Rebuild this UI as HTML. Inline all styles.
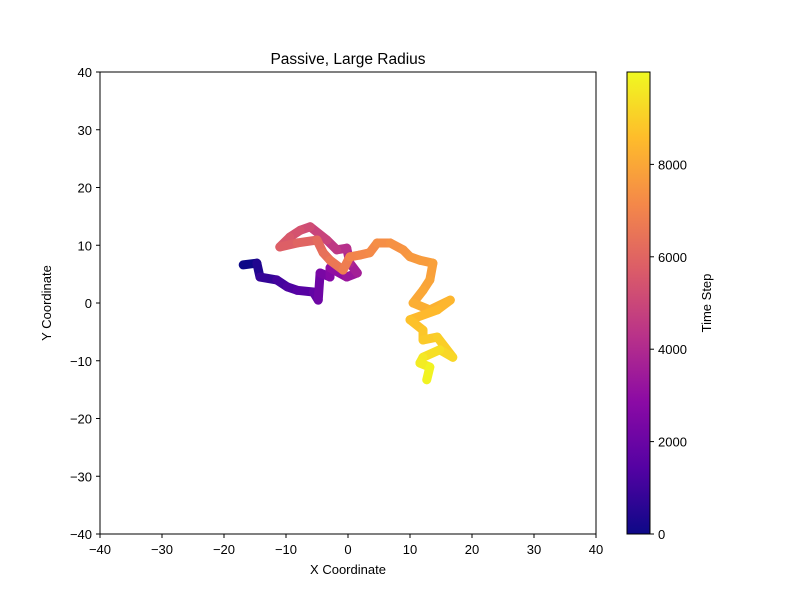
<!DOCTYPE html>
<html><head><meta charset="utf-8"><style>
body{margin:0;background:#fff;font-family:"Liberation Sans",sans-serif}
svg text{font-family:"Liberation Sans",sans-serif;font-size:13px;fill:#000}
</style></head><body>
<svg id="chart" width="800" height="600">
<text x="348" y="64" text-anchor="middle" style="font-size:15.5px">Passive, Large Radius</text>
<g id="plot"></g>
<rect x="100" y="72" width="496" height="462" fill="none" stroke="#000" stroke-width="1"/>
<g id="axes"></g>
<text x="348" y="574" text-anchor="middle">X Coordinate</text>
<text transform="translate(51,303) rotate(-90)" text-anchor="middle">Y Coordinate</text>
<defs><linearGradient id="pl" x1="0" y1="1" x2="0" y2="0"></linearGradient></defs>
<rect x="627" y="72" width="23" height="462" fill="url(#pl)" stroke="#000" stroke-width="1"/>
<text transform="translate(711,303) rotate(-90)" text-anchor="middle">Time Step</text>
</svg>
<script>
const xs=[-16.9,-14.7,-14.2,-11.5,-9.8,-8.2,-5.6,-4.8,-4.5,-2.9,-2.9,-0.2,1.5,0.3,-0.2,-1.8,-3.4,-6.1,-7.7,-9.4,-11,-8.2,-5,-4,-2.9,-0.8,0.3,1.9,3.5,4.7,6.8,8.9,10,11.6,13.7,13.2,12.1,10.5,13.2,16.5,14.4,10,12.1,12.1,14.4,16.9,14.8,12.1,11.6,13.2,12.7];
const ys=[6.6,6.9,4.5,4,2.8,2.2,1.9,0.5,5.2,4.5,6.1,4.5,5.2,6.9,9.5,9.2,10.9,13.2,12.6,11.4,9.7,10.4,10.9,8.7,7.4,5.7,8,8.3,8.7,10.4,10.4,9.2,8,7.4,6.9,4,2.2,0,-1.2,0.5,-1.2,-2.9,-4.7,-6.4,-5.9,-9.4,-8.1,-9.4,-10.4,-11.1,-13.3];
const ts=[0,400,800,1100,1300,1500,1800,2100,2400,2700,3000,3300,3600,3900,4200,4500,4900,5200,5400,5600,5800,6000,6200,6400,6600,6800,7000,7100,7200,7300,7400,7500,7600,7700,7800,7900,8000,8200,8300,8400,8500,8700,8800,8900,9000,9200,9400,9600,9700,9850,10000];
const xTicks=[-40,-30,-20,-10,0,10,20,30,40];
const yTicks=[-40,-30,-20,-10,0,10,20,30,40];
const cTicks=[0,2000,4000,6000,8000];
const sx=v=>100+(v+40)*6.2, sy=v=>534-(v+40)*5.775, sc=v=>534-v/10000*462;
const P=[[13,8,135],[84,2,163],[139,10,165],[185,50,137],[219,92,104],[244,136,73],[254,188,43],[240,249,33]];
function plasma(t){t=Math.max(0,Math.min(1,t))*7;const i=Math.min(6,Math.floor(t)),f=t-i;const c=P[i].map((a,k)=>Math.round(a+(P[i+1][k]-a)*f));return `rgb(${c})`;}
const NS='http://www.w3.org/2000/svg';
const g=document.getElementById('plot');
for(let i=0;i<xs.length-1;i++){
 const l=document.createElementNS(NS,'line');
 l.setAttribute('x1',sx(xs[i]));l.setAttribute('y1',sy(ys[i]));
 l.setAttribute('x2',sx(xs[i+1]));l.setAttribute('y2',sy(ys[i+1]));
 l.setAttribute('stroke',plasma(ts[i]/10000));l.setAttribute('stroke-width','9');l.setAttribute('stroke-linecap','round');
 
 
 g.appendChild(l);
}
const gr=document.getElementById('pl');
for(let i=0;i<P.length;i++){const s=document.createElementNS(NS,'stop');s.setAttribute('offset',i/7);s.setAttribute('stop-color',`rgb(${P[i]})`);gr.appendChild(s);}
const ax=document.getElementById('axes');
function add(tag,at,txt){const e=document.createElementNS(NS,tag);for(const k in at)e.setAttribute(k,at[k]);if(txt!==undefined)e.textContent=txt;ax.appendChild(e);return e;}
xTicks.forEach(v=>{add('line',{x1:sx(v),x2:sx(v),y1:534,y2:538,stroke:'#000'});
 const t=add('text',{x:sx(v),y:554,'text-anchor':'middle'},String(v).replace('-','\u2212'));
 
 });
yTicks.forEach(v=>{add('line',{x1:96,x2:100,y1:sy(v),y2:sy(v),stroke:'#000'});
 const t=add('text',{x:92,y:sy(v)+5,'text-anchor':'end'},String(v).replace('-','\u2212'));
 
 });
cTicks.forEach(v=>{add('line',{x1:650,x2:654,y1:sc(v),y2:sc(v),stroke:'#000'});
 const t=add('text',{x:658,y:sc(v)+5},String(v));
 
 });
</script>
</body></html>
